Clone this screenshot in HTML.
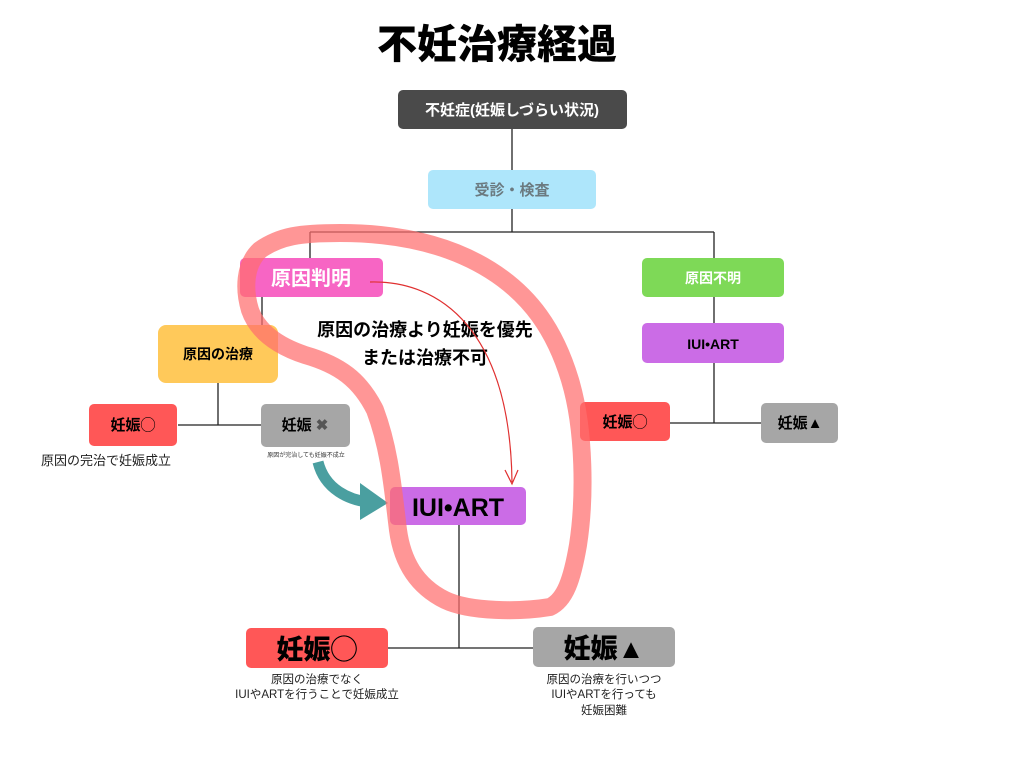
<!DOCTYPE html>
<html><head><meta charset="utf-8"><style>
html,body{margin:0;padding:0;background:#fff;}
svg{display:block;font-family:"Liberation Sans","Noto Sans CJK JP",sans-serif;}
</style></head><body>
<svg width="1024" height="768" viewBox="0 0 1024 768">
<text x="497" y="58" font-size="40" font-weight="900" text-anchor="middle">不妊治療経過</text>
<g stroke="#222" stroke-width="1.3" fill="none">
<path d="M512 129V170M512 209V232M310 232H714M310 232V258M714 232V258"/>
<path d="M262 297V325M218 383V425M178 425H261"/>
<path d="M714 297V323M714 363V423M669 423H761"/>
<path d="M459 525V648M388 648H533"/>
</g>
<rect x="398" y="90" width="229" height="39" rx="5" fill="#4a4a4a"/>
<text x="512" y="115" font-size="15" font-weight="bold" fill="#fff" text-anchor="middle">不妊症(妊娠しづらい状況)</text>
<rect x="428" y="170" width="168" height="39" rx="5" fill="#aee6fb"/>
<text x="512" y="195" font-size="15" font-weight="bold" fill="#6b7a80" text-anchor="middle">受診・検査</text>
<rect x="240" y="258" width="143" height="39" rx="5" fill="#f765c4"/>
<text x="311" y="285" font-size="20" font-weight="bold" fill="#fff" text-anchor="middle">原因判明</text>
<rect x="642" y="258" width="142" height="39" rx="5" fill="#7ed957"/>
<text x="713" y="283" font-size="14" font-weight="bold" fill="#fff" text-anchor="middle">原因不明</text>
<rect x="158" y="325" width="120" height="58" rx="8" fill="#ffc95a"/>
<text x="218" y="359" font-size="14" font-weight="bold" text-anchor="middle">原因の治療</text>
<rect x="89" y="404" width="88" height="42" rx="5" fill="#ff5757"/>
<text x="133" y="430" font-size="15" font-weight="bold" text-anchor="middle">妊娠◯</text>
<rect x="261" y="404" width="89" height="43" rx="5" fill="#a6a6a6"/>
<text x="305" y="430" font-size="15" font-weight="bold" text-anchor="middle">妊娠 <tspan fill="#555">✖</tspan></text>
<text x="106" y="465" font-size="13" fill="#222" text-anchor="middle">原因の完治で妊娠成立</text>
<text x="306" y="457" font-size="6" fill="#333" text-anchor="middle">原因が完治しても妊娠不成立</text>
<rect x="642" y="323" width="142" height="40" rx="5" fill="#cb6ce6"/>
<text x="713" y="349" font-size="14" font-weight="bold" text-anchor="middle">IUI•ART</text>
<rect x="580" y="402" width="90" height="39" rx="5" fill="#ff5757"/>
<text x="625" y="427" font-size="15" font-weight="bold" text-anchor="middle">妊娠◯</text>
<rect x="761" y="403" width="77" height="40" rx="5" fill="#a6a6a6"/>
<text x="800" y="428" font-size="15" font-weight="bold" text-anchor="middle">妊娠▲</text>
<rect x="390" y="487" width="136" height="38" rx="5" fill="#cb6ce6"/>
<text x="458" y="516" font-size="25" font-weight="900" text-anchor="middle">IUI•ART</text>
<text x="425" y="336" font-size="18" font-weight="bold" text-anchor="middle">原因の治療より妊娠を優先</text>
<text x="425" y="364" font-size="18" font-weight="bold" text-anchor="middle">または治療不可</text>
<rect x="246" y="628" width="142" height="40" rx="5" fill="#ff5757"/>
<text x="317" y="659" font-size="27" font-weight="900" text-anchor="middle">妊娠◯</text>
<rect x="533" y="627" width="142" height="40" rx="5" fill="#a6a6a6"/>
<text x="604" y="658" font-size="27" font-weight="900" text-anchor="middle">妊娠▲</text>
<g font-size="11.5" fill="#222" text-anchor="middle">
<text x="317" y="683">原因の治療でなく</text>
<text x="317" y="698">IUIやARTを行うことで妊娠成立</text>
<text x="604" y="683">原因の治療を行いつつ</text>
<text x="604" y="698">IUIやARTを行っても</text>
<text x="604" y="714">妊娠困難</text>
</g>
<path d="M370 282 C440 280 510 330 512 482" stroke="#e03030" stroke-width="1.2" fill="none"/>
<path d="M505 470 L512 484 L518 470" stroke="#e03030" stroke-width="1.2" fill="none"/>
<path d="M318 462 C325 490 350 500 368 502" stroke="#4a9fa0" stroke-width="11" fill="none"/>
<polygon points="360,483 388,503 360,520" fill="#4a9fa0"/>
<path d="M250 310 C244 290 244 265 260 250 C280 236 300 233 340 233 C400 233 450 245 490 270 C530 295 555 330 570 380 C585 430 585 500 578 545 C572 580 565 600 550 607 C520 612 470 612 445 600 C415 585 402 560 398 530 C393 490 390 450 375 410 C360 380 340 365 305 355 C275 345 257 330 250 310 Z" stroke="rgba(255,110,110,0.72)" stroke-width="18" fill="none" stroke-linejoin="round"/>
</svg>
</body></html>
